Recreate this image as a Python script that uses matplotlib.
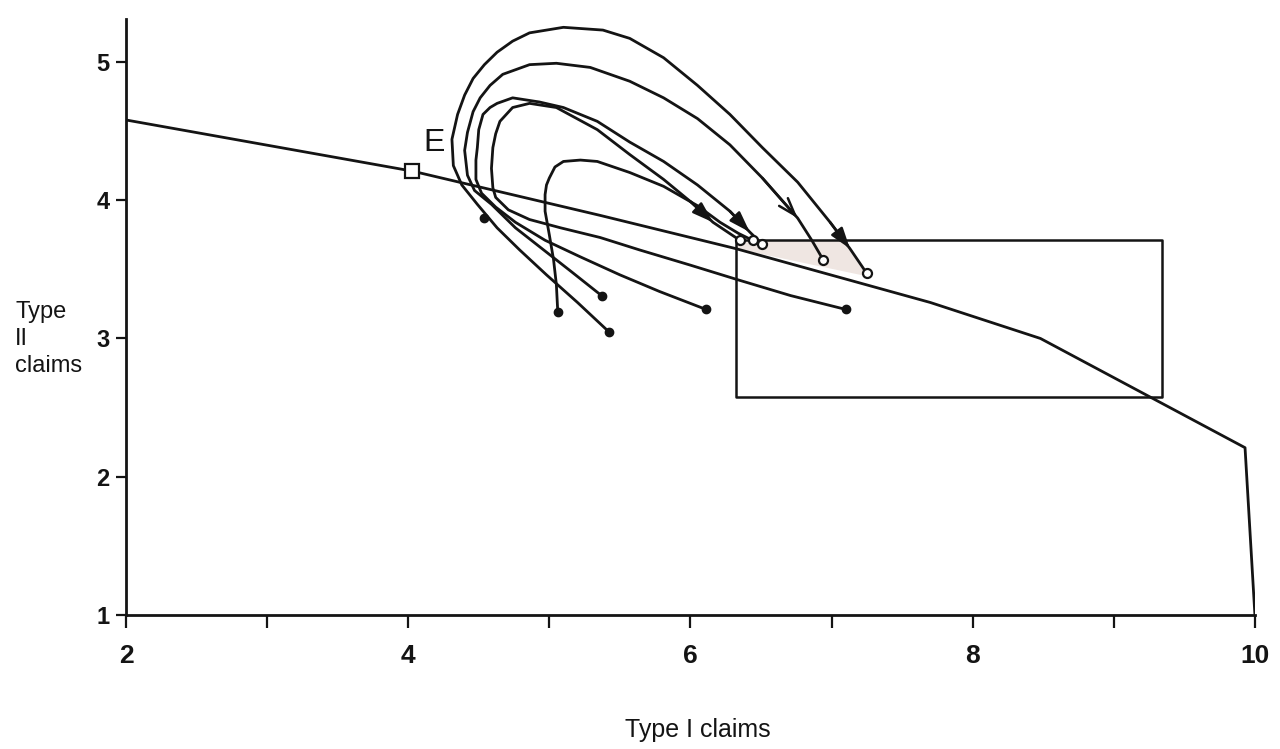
import matplotlib.pyplot as plt

# kinked frontier of attainable claims
frontier_x = [2.0, 4.03, 5.36, 6.32, 7.70, 8.48, 9.93, 10.0]
frontier_y = [4.58, 4.21, 3.89, 3.65, 3.26, 3.00, 2.21, 1.0]

# equilibrium point E
e_x = [4.03]
e_y = [4.21]

# rectangle of final claims
box_x = [6.32, 9.34, 9.34, 6.32, 6.32]
box_y = [3.71, 3.71, 2.58, 2.58, 3.71]

# shaded sliver between box top and frontier
shade_x = [6.32, 7.08, 7.25, 6.32]
shade_y = [3.71, 3.71, 3.45, 3.65]

# initial positions (filled) and final positions (open)
start_x = [4.54, 5.06, 5.37, 5.42, 6.11, 7.10]
start_y = [3.87, 3.19, 3.31, 3.05, 3.21, 3.21]
end_x = [6.35, 6.44, 6.51, 6.94, 7.25]
end_y = [3.71, 3.71, 3.68, 3.57, 3.47]

# adjustment paths
path_a_x = [5.42, 5.20, 4.98, 4.79, 4.63, 4.49, 4.38, 4.32, 4.31, 4.35, 4.40, 4.46, 4.54, 4.63,
            4.74, 4.86, 5.10, 5.38, 5.57, 5.81, 6.05, 6.28, 6.51, 6.76, 6.99, 7.13, 7.25]
path_a_y = [3.05, 3.26, 3.46, 3.64, 3.80, 3.97, 4.11, 4.25, 4.44, 4.62, 4.76, 4.88, 4.98, 5.07,
            5.15, 5.21, 5.25, 5.23, 5.17, 5.03, 4.83, 4.62, 4.38, 4.13, 3.84, 3.65, 3.47]

path_b_x = [5.37, 5.16, 4.96, 4.76, 4.59, 4.47, 4.42, 4.40, 4.42, 4.46, 4.51, 4.58, 4.67,
            4.86, 5.05, 5.29, 5.57, 5.81, 6.05, 6.28, 6.51, 6.76, 6.86, 6.94]
path_b_y = [3.31, 3.48, 3.64, 3.80, 3.97, 4.07, 4.18, 4.36, 4.49, 4.64, 4.74, 4.83, 4.91,
            4.98, 4.99, 4.96, 4.86, 4.74, 4.59, 4.40, 4.16, 3.87, 3.71, 3.57]

path_c_x = [6.11, 5.78, 5.50, 5.22, 4.97, 4.76, 4.62, 4.52, 4.48, 4.48, 4.49, 4.50,
            4.53, 4.58, 4.63, 4.74, 4.93, 5.10, 5.34, 5.57, 5.81, 6.05, 6.28, 6.42, 6.51]
path_c_y = [3.21, 3.34, 3.46, 3.59, 3.71, 3.84, 3.95, 4.05, 4.15, 4.29, 4.38, 4.51,
            4.62, 4.67, 4.70, 4.74, 4.71, 4.67, 4.57, 4.42, 4.28, 4.11, 3.92, 3.77, 3.68]

path_d_x = [7.10, 6.71, 6.35, 6.00, 5.64, 5.36, 5.08, 4.86, 4.71, 4.62, 4.60, 4.59,
            4.60, 4.62, 4.65, 4.74, 4.86, 5.05, 5.34, 5.57, 5.81, 6.00, 6.16, 6.35]
path_d_y = [3.21, 3.31, 3.42, 3.53, 3.64, 3.73, 3.80, 3.86, 3.93, 4.02, 4.09, 4.23,
            4.38, 4.48, 4.57, 4.67, 4.70, 4.67, 4.51, 4.33, 4.15, 3.99, 3.84, 3.71]

path_e_x = [5.06, 5.05, 5.03, 5.00, 4.97, 4.97, 4.98, 5.00, 5.04, 5.10, 5.22, 5.34, 5.57,
            5.81, 6.05, 6.21, 6.34, 6.44]
path_e_y = [3.19, 3.39, 3.57, 3.75, 3.92, 4.04, 4.11, 4.16, 4.24, 4.28, 4.29, 4.28, 4.20,
            4.10, 3.96, 3.84, 3.76, 3.71]

x_ticks = [2, 3, 4, 5, 6, 7, 8, 9, 10]
x_labels = ['2', '', '4', '', '6', '', '8', '', '10']
y_ticks = [1, 2, 3, 4, 5]

ink = '#141414'
plt.rcParams['font.family'] = ['Liberation Sans', 'DejaVu Sans']

fig = plt.figure(figsize=(12.8, 7.49), dpi=100)
ax = fig.add_axes([0.0984, 0.1789, 0.882, 0.7957])

ax.fill(shade_x, shade_y, color='#efe6e2', lw=0, zorder=1)
ax.plot(frontier_x, frontier_y, color=ink, lw=2.0, zorder=2)
ax.plot(box_x, box_y, color=ink, lw=1.8, zorder=2)

paths = [(path_a_x, path_a_y, 25, '-|>'),
         (path_b_x, path_b_y, 21, '->'),
         (path_c_x, path_c_y, 23, '-|>'),
         (path_d_x, path_d_y, 22, '-|>'),
         (path_e_x, path_e_y, None, None)]
for px, py, k, style in paths:
    ax.plot(px, py, color=ink, lw=2.0, zorder=3, solid_joinstyle='round')
    if k is not None:
        ax.annotate('', xy=(px[k], py[k]), xytext=(px[k - 1], py[k - 1]),
                    arrowprops=dict(arrowstyle=style + ',head_length=0.9,head_width=0.3',
                                    color=ink, lw=1.8, shrinkA=0, shrinkB=0,
                                    mutation_scale=14), zorder=4)

ax.plot(start_x, start_y, 'o', color=ink, ms=6, zorder=5)
ax.plot(end_x, end_y, 'o', mfc='white', mec=ink, mew=1.6, ms=6.5, zorder=5)
ax.plot(e_x, e_y, 's', mfc='white', mec=ink, mew=1.6, ms=10, zorder=5)
ax.text(4.18, 4.41, 'E', fontsize=23, ha='center', va='center', color=ink)

ax.set_xlim(2, 10)
ax.set_ylim(1, 5.31)
ax.spines['top'].set_visible(False)
ax.spines['right'].set_visible(False)
for s in ['left', 'bottom']:
    ax.spines[s].set_linewidth(2.0)
    ax.spines[s].set_color(ink)

ax.set_xticks(x_ticks)
ax.set_xticklabels(x_labels, fontweight='bold', fontsize=19)
ax.set_yticks(y_ticks)
ax.set_yticklabels([str(v) for v in y_ticks], fontweight='bold', fontsize=17)
ax.tick_params(axis='x', length=9, width=1.6, pad=12, colors=ink)
ax.tick_params(axis='y', length=7, width=1.6, pad=5, colors=ink)

fig.text(0.545, 0.025, 'Type I claims', fontsize=18, ha='center', va='center', color=ink)
fig.text(0.012, 0.547, 'Type\nII\nclaims', fontsize=17, ha='left', va='center',
         linespacing=1.3, color=ink)

fig.savefig('out.png', dpi=100, facecolor='white')
